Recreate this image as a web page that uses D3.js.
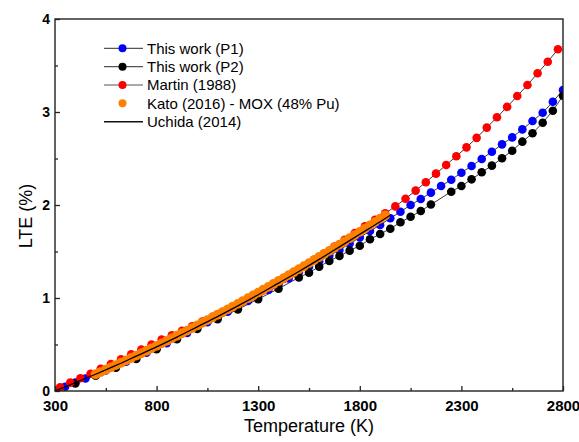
<!DOCTYPE html>
<html>
<head>
<meta charset="utf-8">
<script src="https://cdn.jsdelivr.net/npm/d3@7"></script>
<style>
  body { margin: 0; background: #fff; }
  svg { display: block; font-family: "Liberation Sans", Arial, sans-serif; }
</style>
</head>
<body>
<div class="chart"></div>
<script>
// This work (P1)
var p1Temp = [300, 350, 400, 450, 500, 550, 600, 650, 700, 750, 800, 850, 900, 950, 1000,
  1050, 1100, 1150, 1200, 1250, 1300, 1350, 1400, 1450, 1500, 1550, 1600, 1650, 1700, 1750,
  1800, 1850, 1900, 1950, 2000, 2050, 2100, 2150, 2200, 2250, 2300, 2350, 2400, 2450, 2500,
  2550, 2600, 2650, 2700, 2750, 2800];
var p1Lte = [0, 0.045, 0.09, 0.135, 0.175, 0.22, 0.265, 0.315, 0.362, 0.412, 0.462, 0.515, 0.57, 0.625, 0.682,
  0.74, 0.796, 0.852, 0.91, 0.967, 1.027, 1.087, 1.148, 1.21, 1.276, 1.335, 1.395, 1.455, 1.515, 1.585,
  1.65, 1.72, 1.785, 1.857, 1.928, 2.0, 2.065, 2.133, 2.204, 2.272, 2.347, 2.419, 2.495, 2.573, 2.652,
  2.727, 2.813, 2.903, 2.992, 3.11, 3.237];

// This work (P2)
var p2Temp = [400, 500, 600, 700, 800, 900, 1000, 1100, 1200, 1300, 1400,
  1500, 1550, 1600, 1650, 1700, 1750, 1800, 1850, 1900, 1950, 2000, 2050, 2100, 2150,
  2250, 2300, 2350, 2400, 2450, 2500, 2550, 2600, 2650, 2700, 2750, 2800];
var p2Lte = [0.08, 0.165, 0.25, 0.345, 0.45, 0.556, 0.667, 0.771, 0.878, 0.988, 1.1,
  1.22, 1.272, 1.337, 1.398, 1.452, 1.509, 1.562, 1.631, 1.688, 1.745, 1.814, 1.874, 1.935, 2.005,
  2.143, 2.204, 2.276, 2.352, 2.423, 2.502, 2.583, 2.681, 2.771, 2.885, 3.014, 3.175];

// Martin (1988)
var martinTemp = [325, 375, 425, 475, 525, 575, 625, 675, 725, 775, 825, 875, 925, 975, 1025,
  1075, 1125, 1175, 1225, 1275, 1325, 1375, 1425, 1475, 1525, 1575, 1625, 1675, 1725, 1775,
  1825, 1875, 1925, 1975, 2025, 2075, 2125, 2175, 2225, 2275, 2325, 2375, 2425, 2475, 2525,
  2575, 2625, 2675, 2725, 2775];
var martinLte = [0.04, 0.09, 0.137, 0.185, 0.238, 0.29, 0.342, 0.395, 0.447, 0.5, 0.552, 0.6, 0.648, 0.697, 0.747,
  0.797, 0.85, 0.905, 0.96, 1.02, 1.08, 1.14, 1.205, 1.27, 1.34, 1.41, 1.48, 1.552, 1.625, 1.698,
  1.77, 1.84, 1.91, 1.985, 2.068, 2.155, 2.245, 2.337, 2.43, 2.524, 2.62, 2.722, 2.832, 2.943, 3.055,
  3.172, 3.29, 3.416, 3.541, 3.674];

// Kato (2016) - MOX (48% Pu)
var katoTemp = [500, 525, 550, 575, 600, 625, 650, 675, 700, 725, 750, 775, 800, 825, 850,
  875, 900, 925, 950, 975, 1000, 1025, 1050, 1075, 1100, 1125, 1150, 1175, 1200, 1225,
  1250, 1275, 1300, 1325, 1350, 1375, 1400, 1425, 1450, 1475, 1500, 1525, 1550, 1575, 1600,
  1625, 1650, 1675, 1700, 1725, 1750, 1775, 1800, 1825, 1850, 1875, 1900, 1925];
var katoLte = [0.18, 0.204, 0.229, 0.254, 0.279, 0.304, 0.329, 0.355, 0.38, 0.406, 0.433, 0.459, 0.485, 0.512, 0.539,
  0.566, 0.594, 0.621, 0.649, 0.677, 0.705, 0.733, 0.762, 0.791, 0.82, 0.849, 0.878, 0.908, 0.937, 0.967,
  0.998, 1.028, 1.058, 1.089, 1.12, 1.151, 1.183, 1.214, 1.246, 1.278, 1.31, 1.342, 1.375, 1.408, 1.441,
  1.474, 1.507, 1.541, 1.574, 1.608, 1.643, 1.677, 1.711, 1.746, 1.781, 1.816, 1.852, 1.887];

// Uchida (2014)
var uchidaTemp = [300, 400, 500, 600, 700, 800, 900, 1000, 1100, 1200, 1300, 1400, 1500, 1600, 1700, 1800, 1900, 1950];
var uchidaLte = [0, 0.09, 0.18, 0.275, 0.375, 0.475, 0.58, 0.69, 0.8, 0.915, 1.035, 1.16, 1.285, 1.415, 1.55, 1.685, 1.82, 1.89];

var xTicks = [300, 800, 1300, 1800, 2300, 2800];
var xMinor = [550, 1050, 1550, 2050, 2550];
var yTicks = [0, 1, 2, 3, 4];
var yMinor = [0.5, 1.5, 2.5, 3.5];

var legendNames = ["This work (P1)", "This work (P2)", "Martin (1988)", "Kato (2016) - MOX (48% Pu)", "Uchida (2014)"];

function pairs(t, v) {
  return t.map(function(d, i) { return { t: d, v: v[i] }; });
}

var width = 579,
  height = 442;
var plotLeft = 55, plotRight = 563, plotTop = 19, plotBottom = 391;

var x = d3.scaleLinear().domain([300, 2800]).range([plotLeft, plotRight]);
var y = d3.scaleLinear().domain([0, 4]).range([plotBottom, plotTop]);

var svg = d3.select(".chart")
  .append("svg")
  .attr("width", width)
  .attr("height", height);

svg.append("defs").append("clipPath")
  .attr("id", "plotclip")
  .append("rect")
  .attr("x", plotLeft)
  .attr("y", plotTop)
  .attr("width", plotRight - plotLeft)
  .attr("height", plotBottom - plotTop);

var plot = svg.append("g").attr("clip-path", "url(#plotclip)");

var line = d3.line()
  .x(function(d) { return x(d.t); })
  .y(function(d) { return y(d.v); });

var series = [
  { data: pairs(p1Temp, p1Lte), color: "#0000ff" },
  { data: pairs(p2Temp, p2Lte), color: "#000000" },
  { data: pairs(martinTemp, martinLte), color: "#ff0000" }
];

// connecting lines first, markers on top
series.forEach(function(s) {
  plot.append("path")
    .datum(s.data)
    .attr("d", line)
    .attr("fill", "none")
    .attr("stroke", "#222")
    .attr("stroke-width", 0.9);
});

series.forEach(function(s) {
  plot.append("g")
    .selectAll("circle")
    .data(s.data)
    .enter()
    .append("circle")
    .attr("cx", function(d) { return x(d.t); })
    .attr("cy", function(d) { return y(d.v); })
    .attr("r", 4.3)
    .attr("fill", s.color);
});

plot.append("g")
  .selectAll("circle")
  .data(pairs(katoTemp, katoLte))
  .enter()
  .append("circle")
  .attr("cx", function(d) { return x(d.t); })
  .attr("cy", function(d) { return y(d.v); })
  .attr("r", 4.9)
  .attr("fill", "#ff8000");

plot.append("path")
  .datum(pairs(uchidaTemp, uchidaLte))
  .attr("d", line.curve(d3.curveMonotoneX))
  .attr("fill", "none")
  .attr("stroke", "#000")
  .attr("stroke-width", 1.3);

// axes, ticks pointing inward
var xAxis = svg.append("g")
  .attr("transform", "translate(0," + plotBottom + ")")
  .call(d3.axisBottom(x).tickValues(xTicks).tickSizeInner(-5).tickSizeOuter(0).tickPadding(9).tickFormat(d3.format("d")));
var xAxisMinor = svg.append("g")
  .attr("transform", "translate(0," + plotBottom + ")")
  .call(d3.axisBottom(x).tickValues(xMinor).tickSize(-3).tickFormat(""));
var yAxis = svg.append("g")
  .attr("transform", "translate(" + plotLeft + ",0)")
  .call(d3.axisLeft(y).tickValues(yTicks).tickSizeInner(-5).tickSizeOuter(0).tickPadding(5).tickFormat(d3.format("d")));
var yAxisMinor = svg.append("g")
  .attr("transform", "translate(" + plotLeft + ",0)")
  .call(d3.axisLeft(y).tickValues(yMinor).tickSize(-3).tickFormat(""));

[xAxis, xAxisMinor, yAxis, yAxisMinor].forEach(function(a) {
  a.select(".domain").remove();
  a.selectAll("line").attr("stroke", "#222").attr("stroke-width", 1.3);
  a.selectAll("text")
    .attr("font-family", "'Liberation Sans', Arial, sans-serif")
    .attr("font-weight", "bold")
    .attr("font-size", 15)
    .attr("fill", "#000");
});
yAxis.selectAll("text").attr("font-size", 14);

svg.append("rect")
  .attr("x", plotLeft)
  .attr("y", plotTop)
  .attr("width", plotRight - plotLeft)
  .attr("height", plotBottom - plotTop)
  .attr("fill", "none")
  .attr("stroke", "#222")
  .attr("stroke-width", 1.4);

svg.append("text")
  .attr("x", (plotLeft + plotRight) / 2)
  .attr("y", 432)
  .attr("text-anchor", "middle")
  .attr("font-size", 18)
  .text("Temperature (K)");

svg.append("text")
  .attr("transform", "translate(32,216) rotate(-90)")
  .attr("text-anchor", "middle")
  .attr("font-size", 18)
  .text("LTE (%)");

// legend
var legendColors = ["#0000ff", "#000000", "#ff0000", "#ff8000", null];
var legend = svg.append("g")
  .selectAll("g")
  .data(legendNames)
  .enter()
  .append("g")
  .attr("transform", function(d, i) {
    return "translate(0," + (48.3 + i * 18.35) + ")";
  });

legend.filter(function(d, i) { return i != 3; })
  .append("line")
  .attr("x1", 104)
  .attr("x2", 143)
  .attr("stroke", function(d) { return d == "Uchida (2014)" ? "#111" : "#555"; })
  .attr("stroke-width", function(d) { return d == "Uchida (2014)" ? 1.5 : 1.2; });

legend.filter(function(d, i) { return legendColors[i] != null; })
  .append("circle")
  .attr("cx", 122.5)
  .attr("r", 4)
  .attr("fill", function(d) { return legendColors[legendNames.indexOf(d)]; });

legend.append("text")
  .attr("x", 147)
  .attr("dy", "0.36em")
  .attr("font-size", 15)
  .text(function(d) { return d; });
</script>
</body>
</html>
